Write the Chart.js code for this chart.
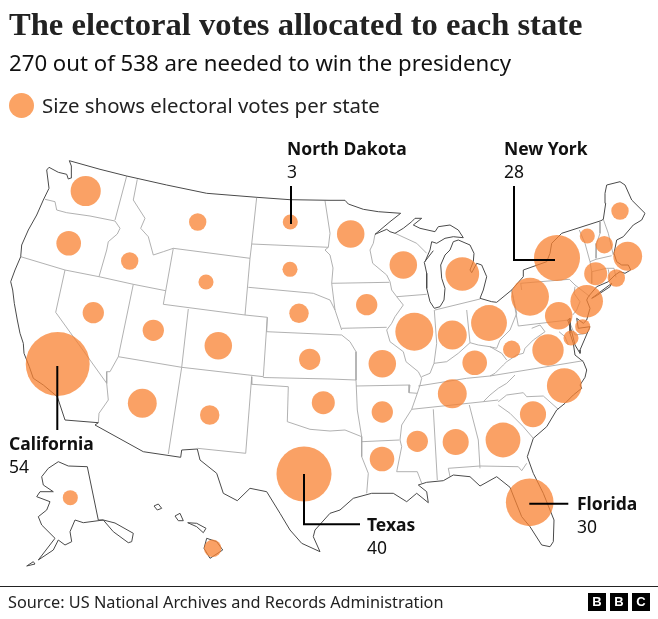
<!DOCTYPE html>
<html>
<head>
<meta charset="utf-8">
<title>The electoral votes allocated to each state</title>
<script src="https://cdn.jsdelivr.net/npm/chart.js@4"></script>
<style>
  html, body { margin: 0; padding: 0; background: #fff; }
  #page { position: relative; width: 658px; height: 619px; overflow: hidden; font-family: "Noto Sans", sans-serif; color: #111; }
  #map-wrap { position: absolute; left: 0; top: 0; width: 658px; height: 619px; }
  #page > div.text { position: absolute; white-space: nowrap; line-height: 1; }
  #title { left: 9px; top: 8px; font: bold 32.6px "Liberation Serif", serif; color: #222; }
  #subtitle { left: 9px; top: 52px; font-size: 22.2px; }
  #legend-text { left: 42px; top: 95px; font-size: 20.4px; color: #222; }
  #legend-key { position: absolute; left: 9px; top: 93px; width: 25px; height: 25px; border-radius: 50%; background: #fba364; }
  .callout-name { font-weight: 700; font-size: 17.5px; color: #111; }
  .callout-value { font-size: 17.5px; color: #111; }
  #rule { position: absolute; left: 0; top: 586px; width: 658px; height: 1px; background: #222; }
  #source { left: 8px; top: 594px; font-size: 16.3px; color: #222; }
  .bbc { position: absolute; top: 593px; width: 18px; height: 18px; background: #000; color: #fff; font: bold 13px/18px "Liberation Sans", sans-serif; text-align: center; }
</style>
</head>
<body>
<div id="page">
  <div id="map-wrap"><canvas id="map-chart" width="658" height="619"></canvas></div>
  <div class="text" id="title">The electoral votes allocated to each state</div>
  <div class="text" id="subtitle">270 out of 538 are needed to win the presidency</div>
  <div id="legend-key"></div>
  <div class="text" id="legend-text">Size shows electoral votes per state</div>
  <div id="rule"></div>
  <div class="text" id="source">Source: US National Archives and Records Administration</div>
  <div class="bbc" style="left:588px">B</div>
  <div class="bbc" style="left:610px">B</div>
  <div class="bbc" style="left:632px">C</div>
</div>
<script>
// electoral votes
const states = ['WA','OR','ID','MT','WY','ND','SD','NV','UT','CO','NE','KS','CA','AZ','NM','TX','OK','AK','HI',
  'MN','WI','MI','IA','IL','IN','OH','PA','NY','ME','VT','NH','MA','CT','RI','NJ','DE','DC','MD','WV','VA',
  'MO','KY','TN','NC','AR','SC','MS','AL','GA','LA','FL'];
const votes = [12,8,4,4,3,3,3,6,6,10,5,6,54,11,5,40,7,3,4,
  10,10,15,6,19,11,17,19,28,4,3,4,11,7,4,14,3,3,10,4,13,
  10,8,11,16,6,9,6,9,16,8,30];

// bubble centres in map units
const mapX = [85.7,68.7,129.7,197.7,206,290.3,290,93.3,153.3,218.3,299,309.7,57.7,142.3,209.7,304,323.3,70.3,212.7,
  350.7,403.3,462.3,366.7,414.3,452.3,489,530,557,620,587.3,604.3,627.7,595.7,616.3,586.7,582.7,571,558.7,511.7,548,
  382.3,474.7,452.3,564.3,382.3,533,417.3,455.7,503,382,529.7];
const mapY = [191,243.3,261,222,282,222,269.3,312.7,330.3,345.7,313.3,359.3,364,403.3,415,474,402.7,497.7,548.3,
  234,265,274,304.7,331.7,335,323,296.7,258,211,236,244.7,256.3,273.7,278,301.3,326.7,338,315.7,349.3,350,
  363.7,362.7,393.7,385.7,412,414.3,441.3,442,440,459,502.3];

// coast and international border of the lower 48
const coast = [[65,420],[57.3,396.7],[43.3,385],[33.3,378.3],[29.3,366.7],[24,353.3],[23.3,343.3],[20,333.3],[17.3,320],[14.3,303.3],[12.7,290],[10.7,281.7],[15,270],[20.7,256.7],[21.7,245],[28.3,230],[36.7,215],[43.3,200],[49,188.3],[46.7,170],[49,167.3],[58.3,172.3],[66.7,174.3],[68.3,179],[71.7,177.7],[71,171.7],[71.7,166],[69.3,160.7],
  [100,169.3],[126.7,176],[166.7,185],[206.7,193.3],[256.7,197.3],[290,199.7],[330,200.3],[345,200.3],[348.3,204],[363.3,209.3],[378.3,211.7],[400.7,213.3],[390,221.7],[375,234.3],[386.7,229.3],[390,231.7],[395,233.3],
  [403.3,228.3],[411.7,221.7],[415,218.3],[421.7,218.3],[413.3,225],[420,228.3],[435,231.7],[438.3,226.7],[450,225],[458.3,230],[463.3,237.7],[453.3,236.7],[445,238.3],[436.7,243.3],[431.7,241.7],[430,250],[425,261.7]];
const lakeMichigan = [[433.3,250.7],[424.3,262.3],[426.7,273.3],[426.7,288.3],[430,301.7],[434.3,308.3],[440,306.7],[444,300],[445,288.3],[441.7,278.3],[440.7,265],[445,255],[450,250],[453.3,241.7],[458.3,240],[470,245],[474,253.3],[473.3,261.7],[470,270],[471.7,272.7],[476.7,263.3],[481.7,265],[486.7,276.7],[483.3,290],[480,298.3],[491.7,301.7],[496.7,302.3],[511.7,290],[523.3,276.7],[523.3,270],[546.7,261.7],[550,253.3],[551.7,243.3],[561.7,233.3],[601,220.7],[603.3,219.3],[605.7,203.3],[605,193.3],[606.7,185],[620,181.7],[625,185],[631.7,200],[645,213.3],[641.7,220],[633.3,225],[623.3,236.7],[616.7,240],[614,253.3],[616.7,261.7],[621.7,265],[628.3,265],[630.7,270],[625,273.3],[620,271.7],[615,275],[608.3,281.7],[596.7,286.7],[588.3,296.7],
  [586.7,300],[590,308.3],[586.7,320],[583.3,323.3],[576.7,318.3],[578.3,328.3],[590,326.7],[580,350],[580,353.3],[575,345],[571.7,331.7],[567.7,320],[570,318.3],[570,333.3],[573.3,343.3],[575,355],[583.3,361.7],[586.7,370],[585,377.3],[580,385],[581.7,388.3],[573.3,395],[565,403.3],[556.7,410],[546.7,426.7],[533.3,438.3],[527.3,456.7],[533.3,473.3],[543.3,493.3],[554,520],[553.3,541.7],[550,546.7],[541.7,545],[530,526.7],[521.7,516.7],[515,500],[510,487.3],[496.7,476.7],[480,486],[470,476.7],[453.3,475],[443.3,480.7],[426.7,482.3],[418.3,485],[426.7,491.7],[428.3,502.7],[416.7,493.3],[406.7,501.7],[393.3,493.3],[371.7,493.3],[353.3,498.3],[340,510],[330,513.3],[315,530],[313.3,536.7],[320,551.7],[301.7,543.3],[290,530],[280,513.3],[266.7,491.7],[250,488.3],[237.3,500.7],[223.3,493.3],[216.7,473.3],[200,460],[197.3,449],[181.7,450],[180.7,457.3],[143.3,451.7],[95,425],[98.3,422.7],[65,420]];
const longIsland = [[591.7,298.3],[611.7,283.3],[610,286.7],[596,296],[591.7,298.3]];
const alaska = [[58.3,461.7],[68.3,466],[87.3,466.7],[98.3,520],[103.3,520],[115,523],[133.3,533.3],[131.7,541.7],[128.3,542.7],[113.3,531.7],[103.3,520],[83.3,522.7],[75,520],[70,531.7],[71.7,541.7],[65,545],[58.3,540],[53.3,550],[38.3,560],[55,538.3],[41.7,525],[38.3,516.7],[46.7,510],[50,501.7],[36.7,496.7],[40,491.7],[53.3,491.7],[43.3,485],[41.7,476.7],[48.3,468.3],[58.3,461.7]];
const aleutians = [[26.7,566],[33.3,561.7],[35,564],[26.7,566]];
const hawaiiIslands = [
  [[206.7,538.3],[216.7,541.7],[222.7,550],[210,558.3],[204,548.3],[206.7,538.3]],
  [[187.7,522.7],[196.7,523.3],[206,528.3],[203.3,532.7],[196.7,526.7],[187.7,522.7]],
  [[175,516],[180,513.3],[183.3,520.7],[178.3,520.7],[175,516]],
  [[154,506],[158.3,504],[161.7,508.3],[157.3,510],[154,506]]
];

// inner state lines
const stateLines = [
  [[45,199.3],[55,201.7],[56.7,210],[66.7,212.7],[90,216],[115,221]],
  [[126.7,176],[115,220]],
  [[115,221],[120,228.3],[117.3,234],[108.3,241.7],[106.7,250],[99,276.7]],
  [[20.7,256.7],[65,270],[99,276.7],[133.3,284.3],[165.7,290.7]],
  [[137.3,179.3],[133.3,200],[145,218.3],[140.7,228.3],[148.3,236.7],[153.3,255],[163.3,251.7],[173.3,248.3]],
  [[173.3,248.3],[250,258.3],[245,315],[163.3,304.3],[173.3,248.3]],
  [[256.7,197.3],[251.7,244],[250,258.3]],
  [[251.7,244],[328.3,247.3]],
  [[325,200.7],[330,233.3],[328.3,247.3],[325,250],[330,255],[333,268],[331.7,283.3],[335,310],[341.7,330]],
  [[248.3,287.3],[313.3,293.3],[330,300],[335,310]],
  [[245,315],[267.3,317.3],[266.7,331.7],[341.7,335]],
  [[65,270],[55.7,312.3],[90,360],[106.7,383.3]],
  [[133.3,284.3],[118.3,356.7],[110,371.7],[106.7,371.7],[106.7,383.3],[108.3,400],[99,413.3],[98.3,422.7]],
  [[188.3,309],[181.7,367.3]],
  [[118.3,356.7],[181.7,367.3],[263.3,376.7]],
  [[181.7,367.3],[168.3,454]],
  [[267.3,317.3],[263.3,376.7]],
  [[251.7,376.7],[245.7,453.3],[197.3,448.3]],
  [[251.7,376.7],[251.7,384.3],[288.3,386.7],[287.3,421.7],[310,429.3],[330,431],[345,430],[361.7,436.7]],
  [[263.3,377.5],[330,379],[356,380]],
  [[341.7,335],[350,341.7],[356,351.7],[356,380],[357.3,410],[361.7,436.7],[361.7,456.7],[368.3,473.3],[366.7,493.3]],
  [[331.7,283.3],[389.3,282.3]],
  [[341.7,328.3],[386.7,327.3]],
  [[375,234.3],[373.3,243.3],[370,250],[372.7,263.3],[386.7,275],[390,281.7],[391.7,290],[396.7,296.7],[403.3,305],[395,316.7],[391.7,323.3],[386.7,330],[390,341.7],[403.3,351.7],[406,361.7],[418.3,371.7],[421.7,378.3],[420,385],[417.3,393.3],[411.7,409.3],[401.7,425],[400,440],[401.7,446.7],[396.7,471.7],[417.3,471.7],[421.7,483.3]],
  [[396.7,296.7],[426.7,294.3]],
  [[356,386],[410,385],[409,392.7],[417.3,393.3]],
  [[361.7,441.7],[399.3,440]],
  [[395,233.3],[416.7,243.3],[426.7,253.3]],
  [[434.3,310],[436.7,343.3],[434,363.3],[430,373.3],[421.7,376.7]],
  [[434,363.3],[446.7,361.7],[458.3,353.3],[470,342.7],[478.3,345],[490,346.7],[496.7,348.3],[500,340],[510,330],[516.7,313.3],[511.7,290]],
  [[466.7,310],[470,342.7]],
  [[435,310],[480,299]],
  [[518.3,326],[511.7,290]],
  [[518.3,326],[568.3,320]],
  [[521.7,290],[520.7,283.3],[569.3,279.3],[575,285],[590,296.7]],
  [[575,286.7],[574,293.3],[580,301.7],[576.7,310],[572.7,315]],
  [[531.7,328.3],[540,325],[545,331.7],[533.3,340],[525,348.3],[523.3,353.3],[516.7,355],[506.7,361.7],[503.3,365],[495,373.3],[490,376]],
  [[490,346.7],[501.7,353.3],[506.7,360]],
  [[418.3,386],[466.7,378.3],[490,376],[583.3,360.7]],
  [[515,375],[506.7,383.3],[498.3,388.3],[490,395],[483.3,401.7]],
  [[411.7,409.3],[483.3,401.7],[498.3,400]],
  [[498.3,401.7],[506.7,395],[523.3,392.7],[526.7,396.7],[543.3,396],[558.3,409.3]],
  [[498.3,405],[510,413.3],[523.3,426.7],[533.3,438.3]],
  [[469.3,405],[478.3,440],[480,468.3]],
  [[433.3,409.3],[437.3,480]],
  [[448.3,468.3],[480,466],[518.3,466.7],[521.7,470.7],[526.7,463.3]],
  [[448.3,468.3],[450,476.7]],
  [[579.3,230],[585,243.3],[590,261.7],[591.7,271.7],[591.7,283.3]],
  [[600,222],[600,233.3],[596.7,243.3],[596,258.3]],
  [[603.3,219.3],[608.3,233.3],[613.3,255]],
  [[590,261.7],[596,259.3],[611.7,255.7]],
  [[591.7,271.7],[606.7,268.3],[614,268.3],[616,277.3]],
  [[608.3,269.3],[610,280]],
  [[568.3,319.3],[575,335],[586.7,333.3]],
  [[559,331.7],[565,336.7],[568.3,345]]
];

// label leaders: [name, votes, text left, text top, leader path]
const calloutNames = ['North Dakota','New York','California','Texas','Florida'];
const calloutValues = ['3','28','54','40','30'];
const calloutLeft = [287,504,9,367,577];
const calloutTop = [140,140,435,516,495];
const leaders = [
  [[291,186],[291,224]],
  [[514,186],[514,260],[555,260]],
  [[57.3,366],[57.3,430]],
  [[304,474],[304,524.3],[360,524.3]],
  [[529.3,503.7],[568.3,503.7]]
];

const VOTE_RADIUS = 4.35; // radius in px per sqrt(vote)

const page = document.getElementById('page');
calloutNames.forEach((name, i) => {
  const a = document.createElement('div');
  a.className = 'text callout-name';
  a.style.left = calloutLeft[i] + 'px';
  a.style.top = calloutTop[i] + 'px';
  a.textContent = name;
  page.appendChild(a);
  const b = document.createElement('div');
  b.className = 'text callout-value';
  b.style.left = calloutLeft[i] + 'px';
  b.style.top = (calloutTop[i] + 23) + 'px';
  b.textContent = calloutValues[i];
  page.appendChild(b);
});

function toPoints(path) {
  return path.map(p => ({ x: p[0], y: p[1] }));
}

function lineSet(path, color, width, order) {
  return {
    type: 'scatter',
    data: toPoints(path),
    showLine: true,
    borderColor: color,
    borderWidth: width,
    pointRadius: 0,
    fill: false,
    tension: 0,
    order: order
  };
}

const datasets = [];
leaders.forEach(path => datasets.push(lineSet(path, '#000', 2, 0)));
datasets.push({
  type: 'bubble',
  label: 'Electoral votes',
  data: states.map((s, i) => ({ x: mapX[i], y: mapY[i], r: Math.sqrt(votes[i]) * VOTE_RADIUS })),
  backgroundColor: 'rgba(248,130,50,0.75)',
  borderWidth: 0,
  order: 1
});
[coast, lakeMichigan, longIsland, alaska, aleutians].concat(hawaiiIslands).forEach(path => {
  datasets.push(lineSet(path, '#4a4a4a', 1, 2));
});
stateLines.forEach(path => datasets.push(lineSet(path, '#a8a8a8', 0.9, 3)));

new Chart(document.getElementById('map-chart').getContext('2d'), {
  type: 'scatter',
  data: { datasets: datasets },
  options: {
    responsive: false,
    animation: false,
    layout: { padding: 0, autoPadding: false },
    scales: {
      x: { type: 'linear', min: 0, max: 658, display: false },
      y: { type: 'linear', min: 0, max: 619, reverse: true, display: false }
    },
    plugins: {
      legend: { display: false },
      tooltip: { enabled: false }
    }
  }
});
</script>
</body>
</html>
